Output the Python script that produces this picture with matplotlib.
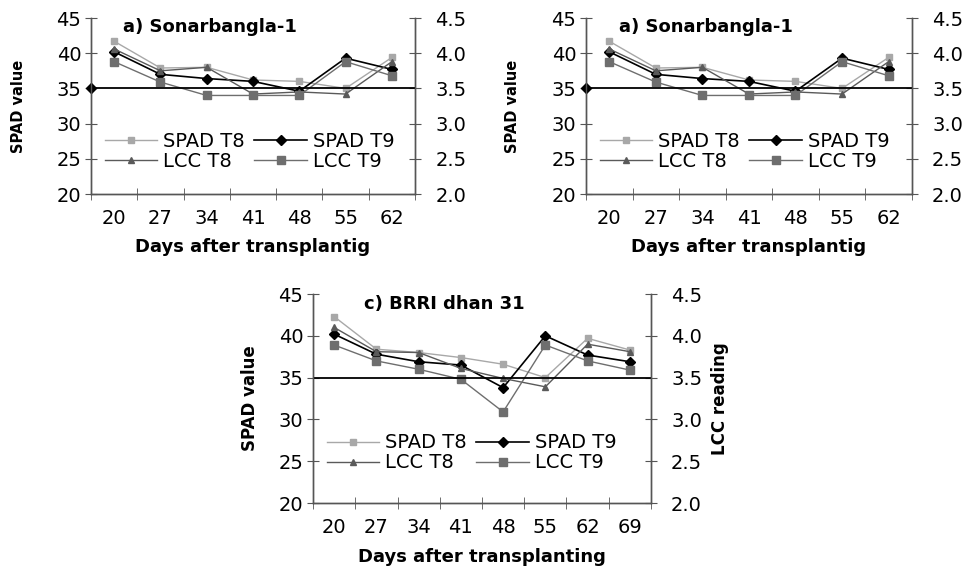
import numpy as np
import matplotlib
matplotlib.use('Agg')
import matplotlib.pyplot as plt
from matplotlib.ticker import FormatStrFormatter

plt.rcParams['font.family'] = ['DejaVu Sans']

# panel a) Sonarbangla-1
days_a = ['20', '27', '34', '41', '48', '55', '62']
spad_t8_a = [41.7, 37.9, 38.0, 36.2, 36.0, 35.0, 39.4]
spad_t9_a = [40.2, 37.0, 36.4, 36.0, 34.6, 39.3, 37.7]
lcc_t8_a = [4.06, 3.75, 3.80, 3.42, 3.45, 3.42, 3.88]
lcc_t9_a = [3.88, 3.59, 3.40, 3.40, 3.40, 3.88, 3.68]

# panel c) BRRI dhan 31
days_c = ['20', '27', '34', '41', '48', '55', '62', '69']
spad_t8_c = [42.3, 38.4, 38.0, 37.4, 36.6, 35.0, 39.7, 38.3]
spad_t9_c = [40.2, 37.8, 36.9, 36.5, 33.8, 40.0, 37.7, 36.9]
lcc_t8_c = [4.10, 3.81, 3.80, 3.61, 3.49, 3.39, 3.90, 3.81]
lcc_t9_c = [3.89, 3.70, 3.60, 3.48, 3.09, 3.89, 3.70, 3.59]

lcc_critical = 3.5  # critical LCC line


def draw(ax, days, s8, s9, l8, l9, title, title_x, xlabel, xlab_y, ylab_x, ylab_size,
         right_label=None, rlab_x=None, edge_marker=False):
    ax2 = ax.twinx()
    x = np.arange(len(days))
    h1, = ax.plot(x, s8, color='#a8a8a8', lw=1.0, marker='s', ms=4, label='SPAD T8', zorder=3)
    h2, = ax.plot(x, s9, color='black', lw=1.2, marker='D', ms=5.5, label='SPAD T9', zorder=4)
    h3, = ax2.plot(x, l8, color='#5a5a5a', lw=1.0, marker='^', ms=5, label='LCC T8')
    h4, = ax2.plot(x, l9, color='#6e6e6e', lw=1.0, marker='s', ms=5.5, label='LCC T9')
    if edge_marker:
        ax2.axhline(lcc_critical, color='black', lw=1.3, marker='D', ms=5, markevery=[0], clip_on=False)
    else:
        ax2.axhline(lcc_critical, color='black', lw=1.3)

    ax.set_xlim(-0.5, len(days) - 0.5)
    ax.set_ylim(20, 45)
    ax2.set_ylim(2.0, 4.5)
    ax.set_yticks(np.arange(20, 46, 5))
    ax2.set_yticks(np.arange(2.0, 4.51, 0.5))
    ax2.yaxis.set_major_formatter(FormatStrFormatter('%.1f'))
    ax.set_xticks(x)
    ax.set_xticklabels(days)
    ax.set_xticks(np.arange(-0.5, len(days)), minor=True)
    ax.tick_params(axis='x', which='major', length=0, pad=11, labelsize=14)
    ax.tick_params(axis='x', which='minor', length=9, direction='inout', color='#555555')
    ax.tick_params(axis='y', length=9, direction='inout', color='#555555', pad=2.5, labelsize=14)
    ax2.tick_params(axis='y', length=9, direction='inout', color='#555555', pad=10, labelsize=14)

    for a in (ax, ax2):
        a.spines['top'].set_visible(False)
        for s in ('left', 'right', 'bottom'):
            a.spines[s].set_color('#555555')
            a.spines[s].set_linewidth(1.0)

    ax.text(title_x, 0.95, title, transform=ax.transAxes, fontsize=13, fontweight='bold', va='center')
    ax.set_xlabel(xlabel, fontsize=13, fontweight='bold', va='center')
    ax.xaxis.set_label_coords(0.5, xlab_y)
    ax.set_ylabel('SPAD value', fontsize=ylab_size, fontweight='bold', va='center')
    ax.yaxis.set_label_coords(ylab_x, 0.5)
    if right_label:
        ax2.set_ylabel(right_label, fontsize=12, fontweight='bold', va='center', rotation=90)
        ax2.yaxis.set_label_coords(rlab_x, 0.5)

    # legend filled row by row, as in the original
    ax2.legend([h1, h3, h2, h4], ['SPAD T8', 'LCC T8', 'SPAD T9', 'LCC T9'], ncol=2, frameon=False,
               loc='center left', bbox_to_anchor=(0.0, 0.24), fontsize=14, handlelength=2.7,
               handletextpad=0.3, columnspacing=0.5, labelspacing=0.05, borderpad=0.2)


fig = plt.figure(figsize=(9.67, 5.7), dpi=100)
ax_a = fig.add_axes([0.0941, 0.6596, 0.3351, 0.3088])
ax_b = fig.add_axes([0.606, 0.6596, 0.337, 0.3088])
ax_c = fig.add_axes([0.3237, 0.1175, 0.3495, 0.3667])

draw(ax_a, days_a, spad_t8_a, spad_t9_a, lcc_t8_a, lcc_t9_a, 'a) Sonarbangla-1', 0.10,
     'Days after transplantig', -0.30, -0.225, 10.5, edge_marker=True)
draw(ax_b, days_a, spad_t8_a, spad_t9_a, lcc_t8_a, lcc_t9_a, 'a) Sonarbangla-1', 0.10,
     'Days after transplantig', -0.30, -0.225, 10.5, edge_marker=True)
draw(ax_c, days_c, spad_t8_c, spad_t9_c, lcc_t8_c, lcc_t9_c, 'c) BRRI dhan 31', 0.15,
     'Days after transplanting', -0.258, -0.186, 12, right_label='LCC reading', rlab_x=1.204)

fig.savefig('out.png', dpi=100)
